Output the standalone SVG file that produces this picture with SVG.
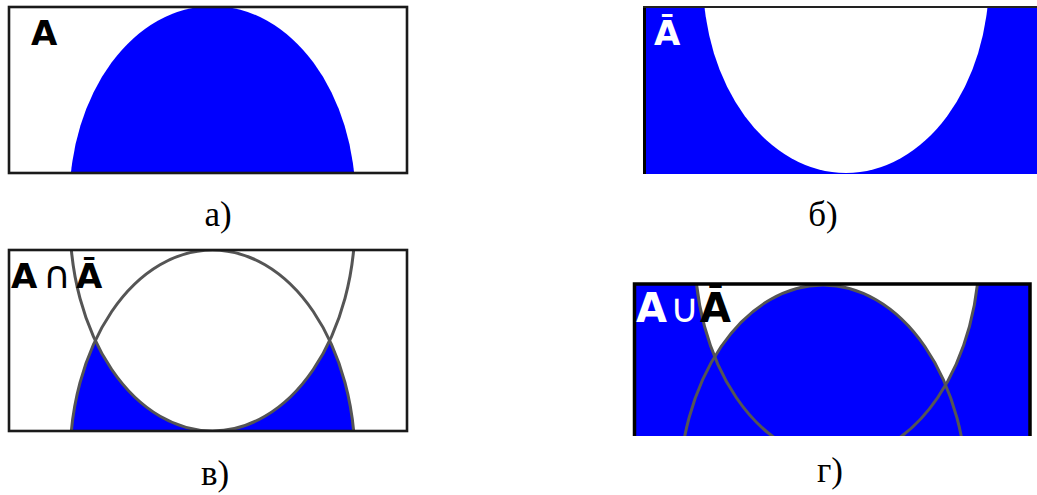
<svg xmlns="http://www.w3.org/2000/svg" width="1037" height="495" viewBox="0 0 1037 495">
<style>
.blue{fill:#0000FF}
.wh{fill:#FFFFFF}
.outl{fill:none;stroke:#555555;stroke-width:3}
.frame{fill:none;stroke:#1a1a1a;stroke-width:2.6}
.sym{font-family:"DejaVu Sans",sans-serif;font-weight:bold}
.thin{font-weight:normal}
.cap{font-family:"Liberation Serif","Times New Roman",serif;font-size:35px;fill:#000;text-anchor:middle}
</style>
<defs>
<clipPath id="clipA"><rect x="9" y="7" width="398" height="166"/></clipPath>
<clipPath id="clipB"><rect x="643" y="6" width="394" height="168"/></clipPath>
<clipPath id="clipC"><rect x="9" y="250" width="398" height="181"/></clipPath>
<clipPath id="clipD"><rect x="633" y="283" width="398" height="153"/></clipPath>
</defs>
<rect x="0" y="0" width="1037" height="495" fill="#FFFFFF"/>

<g id="panel-a">
<rect x="9" y="7" width="398" height="166" class="wh"/>
<ellipse cx="212.5" cy="200" rx="143" ry="194" class="blue" clip-path="url(#clipA)"/>
<rect x="9" y="7" width="398" height="166" class="frame"/>
<text x="31" y="45" class="sym" font-size="34" fill="#000">A</text>
</g>

<g id="panel-b">
<g clip-path="url(#clipB)">
<rect x="643" y="6" width="394" height="168" class="blue"/>
<ellipse cx="846" cy="-21" rx="143" ry="194" class="wh"/>
</g>
<line x1="644.5" y1="6" x2="644.5" y2="174" stroke="#000" stroke-width="3"/>
<line x1="643" y1="7" x2="1037" y2="7" stroke="#222" stroke-width="2"/>
<text x="654" y="45" class="sym" font-size="34" fill="#FFFFFF">Ā</text>
</g>

<g id="panel-c">
<rect x="9" y="250" width="398" height="181" class="wh"/>
<g clip-path="url(#clipC)">
<ellipse cx="212.5" cy="460" rx="142.5" ry="210" class="blue"/>
<ellipse cx="212.5" cy="221" rx="142.5" ry="210" class="wh"/>
<ellipse cx="212.5" cy="460" rx="142.5" ry="210" class="outl"/>
<ellipse cx="212.5" cy="221" rx="142.5" ry="210" class="outl"/>
</g>
<rect x="9" y="250" width="398" height="181" class="frame"/>
<text y="288" class="sym" font-size="34" fill="#000"><tspan x="11">A</tspan><tspan x="43" class="thin" font-size="38">∩</tspan><tspan x="76">Ā</tspan></text>
</g>

<g id="panel-d">
<g clip-path="url(#clipD)">
<rect x="633" y="283" width="398" height="153" class="blue"/>
<ellipse cx="837" cy="249" rx="142.5" ry="210" class="wh"/>
<ellipse cx="823" cy="495" rx="144" ry="210" class="blue"/>
<ellipse cx="837" cy="249" rx="142.5" ry="210" class="outl"/>
<ellipse cx="823" cy="495" rx="144" ry="210" class="outl"/>
</g>
<path d="M634.5,436 V284 H1030 V436" fill="none" stroke="#000" stroke-width="3.5"/>
<text y="322" class="sym" font-size="40"><tspan x="636" fill="#FFFFFF">A</tspan><tspan x="670" class="thin" fill="#FFFFFF">∪</tspan><tspan x="700" fill="#000">Ā</tspan></text>
</g>

<g id="captions">
<text x="218" y="226" class="cap">а)</text>
<text x="823" y="226" class="cap">б)</text>
<text x="215" y="485" class="cap">в)</text>
<text x="830" y="482" class="cap">г)</text>
</g>
</svg>
